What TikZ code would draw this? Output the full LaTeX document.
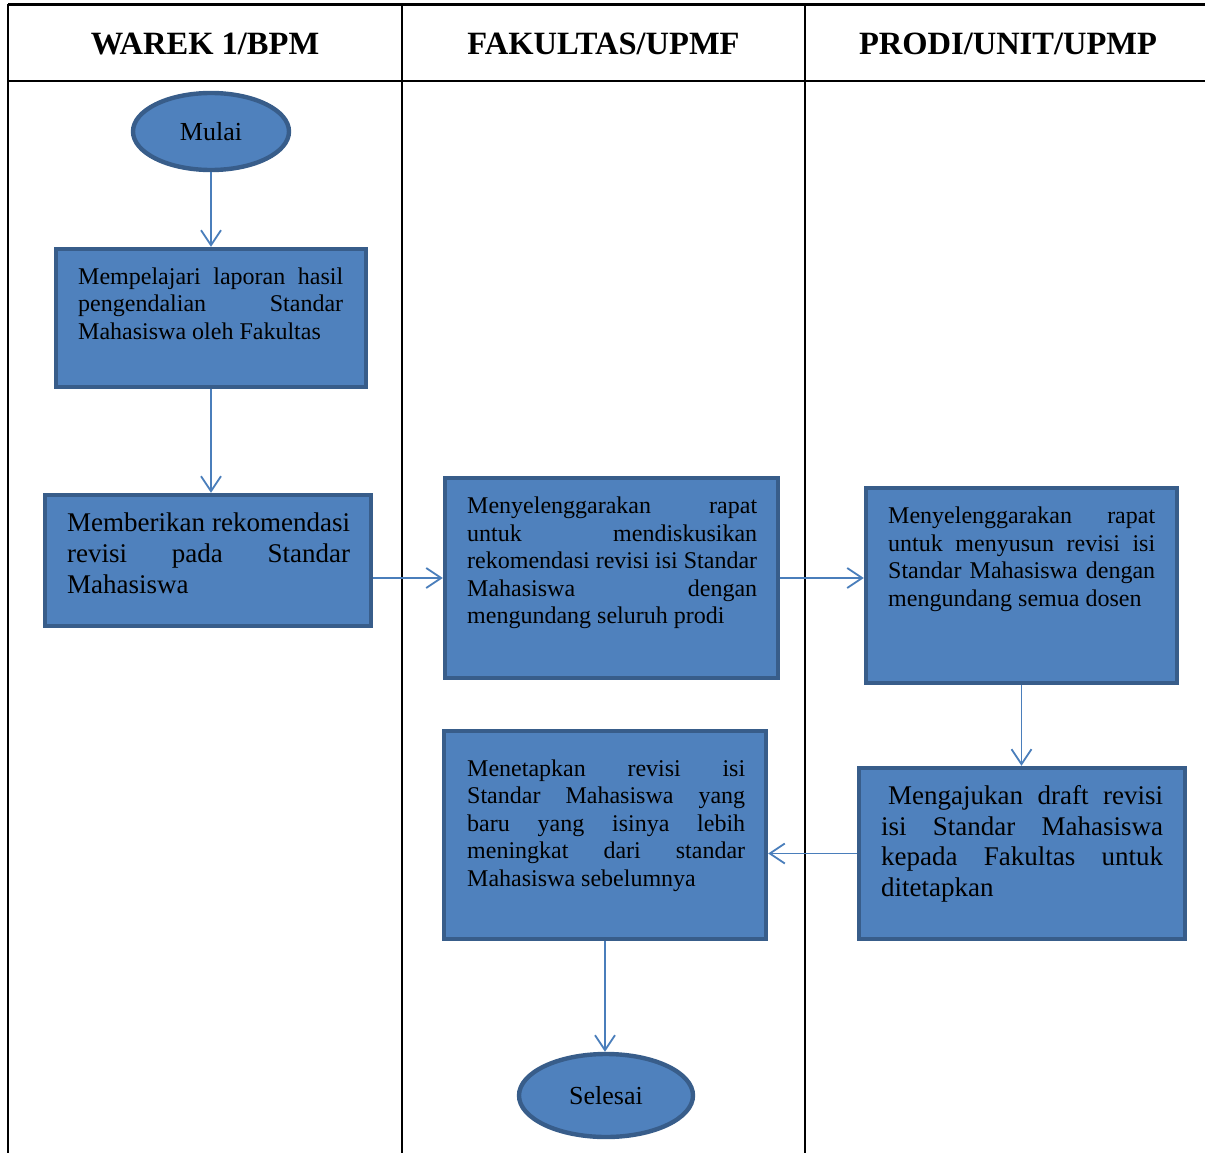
\documentclass[tikz,border=0pt]{standalone}
\usepackage{fontspec}
\setmainfont{Liberation Serif}
\usetikzlibrary{arrows.meta,shapes.geometric}
\definecolor{flBlue}{HTML}{4F81BD}
\definecolor{flBlueDk}{HTML}{385D8A}
\definecolor{flArrow}{HTML}{4A7EBB}
\hyphenpenalty=10000
\exhyphenpenalty=10000
\tolerance=10000

\begin{document}
\begin{tikzpicture}[
    x=1pt, y=-1pt,
    >={Straight Barb[length=15pt, width=20pt]},
    lane/.style={draw=black, line width=2.2pt},
    head/.style={anchor=base, font=\fontsize{32.5}{37}\selectfont\bfseries},
    procbox/.style={draw=flBlueDk, line width=4.4pt, fill=flBlue, inner sep=0pt},
    term/.style={ellipse, draw=flBlueDk, line width=4.4pt, fill=flBlue, inner sep=0pt,
                 font=\fontsize{26}{30}\selectfont},
    % texto justificado, primera linea con puntal fijo de 20pt
    txt/.style={anchor=north west, inner sep=0pt, align=justify, text width=#1,
                font=\fontsize{24}{27.5}\selectfont,
                execute at begin node={\rule{0pt}{20pt}}},
    txtbig/.style={txt=#1, font=\fontsize{27}{30.8}\selectfont},
    flow/.style={->, draw=flArrow, line width=1.8pt},
  ]
  \useasboundingbox (0,0) rectangle (1205,1153);

  % ---------- tabla de carriles ----------
  \draw[lane] (8.3,4.5) -- (1205,4.5);
  \draw[lane] (8.3,81) -- (1205,81);
  \draw[lane] (8.3,4.5) -- (8.3,1153);
  \draw[lane] (402.3,4.5) -- (402.3,1153);
  \draw[lane] (805,4.5) -- (805,1153);

  \node[head] (h1) at (205,54.3)   {WAREK 1/BPM};
  \node[head] (h2) at (603.5,54.3) {FAKULTAS/UPMF};
  \node[head] (h3) at (1008,54.3)  {PRODI/UNIT/UPMP};

  % ---------- carril 1: WAREK 1/BPM ----------
  \node[term, minimum width=156, minimum height=77] (mulai) at (211,131.5) {Mulai};

  \node[procbox, minimum width=310, minimum height=138] (b1) at (211,318) {};
  \node[txt=265] (t1) at (78,264)
    {Mempelajari laporan hasil\linebreak pengendalian Standar\linebreak Mahasiswa oleh Fakultas};

  \node[procbox, minimum width=326, minimum height=131] (b2) at (208,560.5) {};
  \node[txtbig=283] (t2) at (67,511.7)
    {Memberikan rekomendasi\linebreak revisi pada Standar\linebreak Mahasiswa};

  % ---------- carril 2: FAKULTAS/UPMF ----------
  \node[procbox, minimum width=333, minimum height=200] (b3) at (611.5,578) {};
  \node[txt=290] (t3) at (467,493.3)
    {Menyelenggarakan rapat\linebreak untuk mendiskusikan\linebreak rekomendasi revisi isi Standar\linebreak Mahasiswa dengan\linebreak mengundang seluruh prodi};

  \node[procbox, minimum width=322, minimum height=208] (b6) at (605,835) {};
  \node[txt=278] (t6) at (467,756)
    {Menetapkan revisi isi\linebreak Standar Mahasiswa yang\linebreak baru yang isinya lebih\linebreak meningkat dari standar\linebreak Mahasiswa sebelumnya};

  \node[term, minimum width=174, minimum height=83] (selesai) at (606,1095.5) {Selesai};

  % ---------- carril 3: PRODI/UNIT/UPMP ----------
  \node[procbox, minimum width=311, minimum height=195] (b4) at (1021.5,585.5) {};
  \node[txt=267] (t4) at (888,503.3)
    {Menyelenggarakan rapat\linebreak untuk menyusun revisi isi\linebreak Standar Mahasiswa dengan\linebreak mengundang semua dosen};

  \node[procbox, minimum width=326, minimum height=171] (b5) at (1022,853.5) {};
  \node[txtbig=282] (t5) at (881,784)
    {\hspace*{7pt}Mengajukan draft revisi\linebreak isi Standar Mahasiswa\linebreak kepada Fakultas untuk\linebreak ditetapkan};

  % ---------- flujo ----------
  \draw[flow] (mulai.south) -- (b1.north);
  \draw[flow] (b1.south) -- (b1.south |- b2.north);
  \draw[flow] (b2.east |- b3.west) -- (b3.west);
  \draw[flow] (b3.east) -- (b3.east -| b4.west);
  \draw[flow] (b4.south) -- (b4.south |- b5.north);
  \draw[flow] (b5.west) -- (b5.west -| b6.east);
  \draw[flow] (b6.south) -- (b6.south |- selesai.north);

\end{tikzpicture}
\end{document}
